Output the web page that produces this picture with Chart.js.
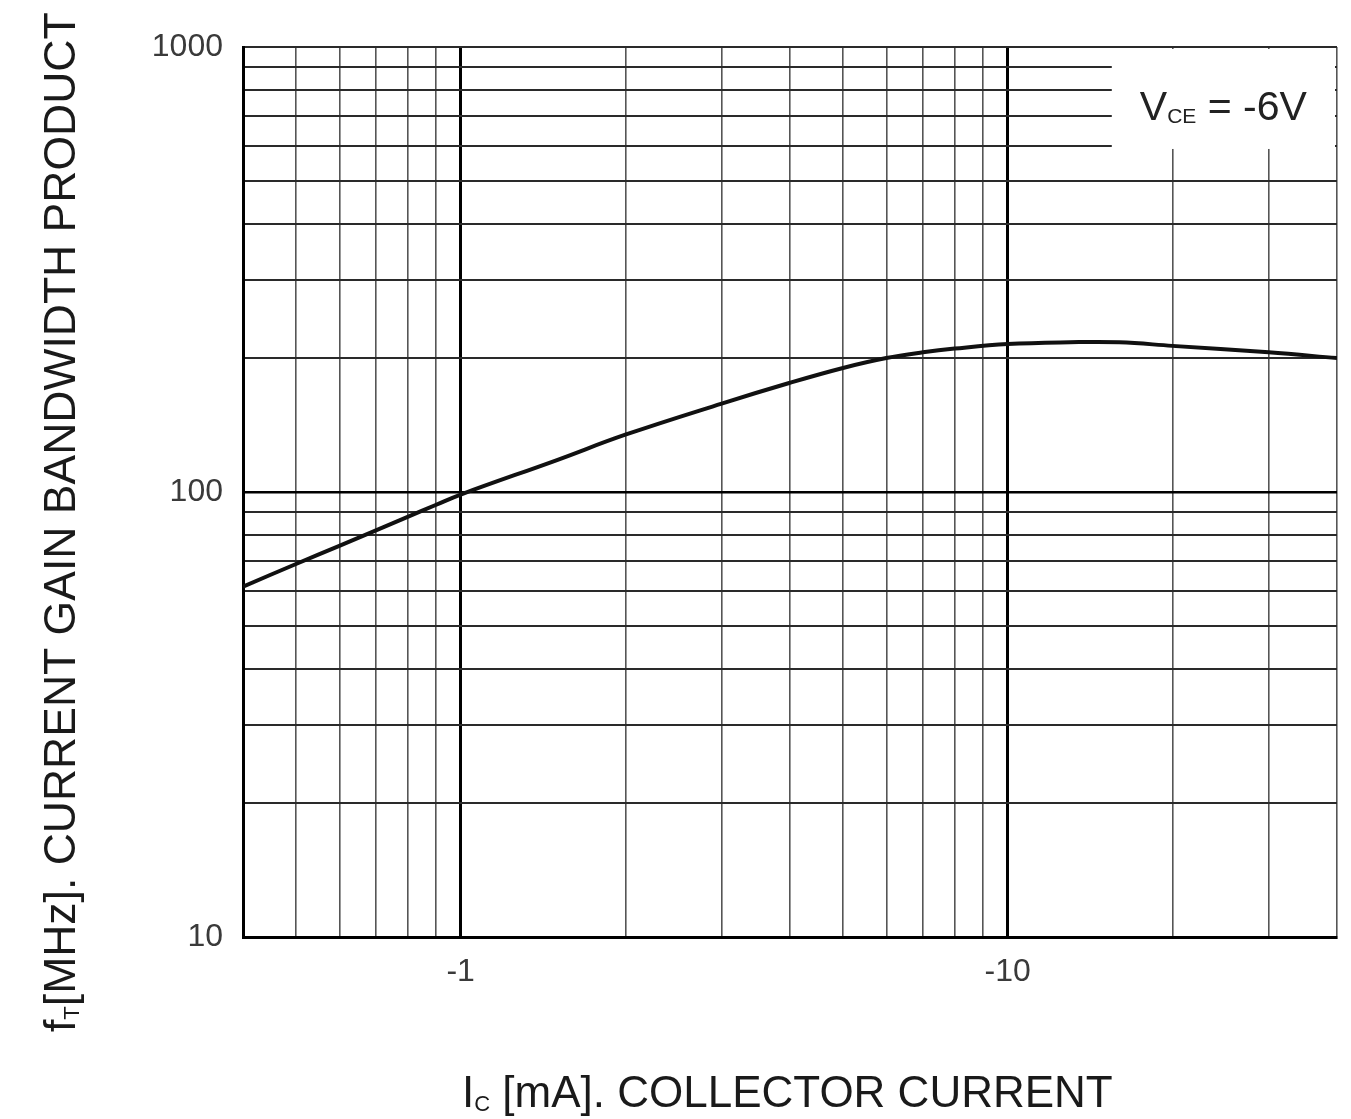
<!DOCTYPE html>
<html>
<head>
<meta charset="utf-8">
<script src="https://cdn.jsdelivr.net/npm/chart.js@4.4.1/dist/chart.umd.min.js"></script>
<style>
  html, body { margin: 0; padding: 0; background: #fff; }
  #wrap { width: 1351px; height: 1119px; position: relative; }
</style>
</head>
<body>
<div id="wrap"><canvas id="c" width="1351" height="1119"></canvas></div>
<script>
// ---- data ----
const collectorCurrent = [0.4, 0.5, 0.6, 0.7, 0.8, 0.9, 1, 1.5, 2, 3, 4, 5, 6, 7, 8, 10, 13, 16, 20, 30, 40];
const gainBandwidth    = [61.3, 68.9, 75.7, 82, 87.9, 93.5, 98.7, 118, 134.5, 158, 176, 190, 200, 206, 210, 215, 217, 217, 213, 206, 200];

const xGridValues = [0.4, 0.5, 0.6, 0.7, 0.8, 0.9, 1, 2, 3, 4, 5, 6, 7, 8, 9, 10, 20, 30, 40];
const xTickValues = [1, 10];
const xTickLabels = ['-1', '-10'];
const yGridValues = [10, 20, 30, 40, 50, 60, 70, 80, 90, 100, 200, 300, 400, 500, 600, 700, 800, 900, 1000];
const yTickValues = [10, 100, 1000];
const yTickLabels = ['10', '100', '1000'];
const majorValues = [1, 10, 100];

const conditionLabel = { main: 'V', sub: 'CE', rest: ' = -6V' };
const yTitle = { main: 'f', sub: 'T', rest: '[MHz]. CURRENT GAIN BANDWIDTH PRODUCT' };
const xTitle = { main: 'I', sub: 'C', rest: ' [mA]. COLLECTOR CURRENT' };
const legendBoxFromX = 15.5;   // value on x axis where annotation box begins
const legendBoxToY = 590;      // value on y axis where annotation box ends

const FONT = '"Liberation Sans", Arial, sans-serif';

function drawSubText(ctx, parts, x, y, size, subSize) {
  ctx.font = size + 'px ' + FONT;
  ctx.fillText(parts.main, x, y);
  let w = ctx.measureText(parts.main).width;
  ctx.font = subSize + 'px ' + FONT;
  ctx.fillText(parts.sub, x + w, y + size * 0.08);
  w += ctx.measureText(parts.sub).width;
  ctx.font = size + 'px ' + FONT;
  ctx.fillText(parts.rest, x + w, y);
}

const decorPlugin = {
  id: 'decor',
  beforeDatasetsDraw(chart) {
    const { ctx, chartArea, scales } = chart;
    const x0 = scales.x.getPixelForValue(legendBoxFromX);
    const y1 = scales.y.getPixelForValue(legendBoxToY);
    ctx.save();
    ctx.fillStyle = '#fff';
    ctx.fillRect(x0, chartArea.top + 2, chartArea.right - 2 - x0, y1 - chartArea.top - 2);
    ctx.fillStyle = '#222';
    ctx.textBaseline = 'alphabetic';
    drawSubText(ctx, conditionLabel, x0 + 28, chartArea.top + 73, 41, 21);
    ctx.restore();
  },
  afterDraw(chart) {
    const { ctx, chartArea, scales } = chart;
    ctx.save();
    // tick labels
    ctx.fillStyle = '#3a3a3a';
    ctx.font = '32px ' + FONT;
    ctx.textAlign = 'right';
    ctx.textBaseline = 'middle';
    yTickValues.forEach((v, i) => {
      ctx.fillText(yTickLabels[i], chartArea.left - 20, scales.y.getPixelForValue(v));
    });
    ctx.textAlign = 'center';
    xTickValues.forEach((v, i) => {
      ctx.fillText(xTickLabels[i], scales.x.getPixelForValue(v), chartArea.bottom + 35);
    });
    // axis titles
    ctx.textAlign = 'left';
    ctx.fillStyle = '#1a1a1a';
    ctx.textBaseline = 'alphabetic';
    drawSubText(ctx, xTitle, 462, 1107, 44, 22);
    ctx.translate(75, 1032);
    ctx.rotate(-Math.PI / 2);
    drawSubText(ctx, yTitle, 0, 0, 44.5, 22);
    ctx.restore();
  }
};

const isMajor = v => majorValues.some(m => Math.abs(m - v) < 1e-9);

new Chart(document.getElementById('c'), {
  type: 'line',
  data: {
    datasets: [{
      data: collectorCurrent.map((x, i) => ({ x: x, y: gainBandwidth[i] })),
      borderColor: '#111',
      borderWidth: 4,
      pointRadius: 0,
      fill: false,
      tension: 0.4
    }]
  },
  options: {
    responsive: false,
    animation: false,
    events: [],
    layout: { padding: { left: 243, right: 14, top: 47, bottom: 182 } },
    plugins: { legend: { display: false }, tooltip: { enabled: false } },
    scales: {
      x: {
        type: 'logarithmic',
        min: 0.4, max: 40,
        afterBuildTicks(scale) { scale.ticks = xGridValues.map(v => ({ value: v })); },
        afterFit(scale) { scale.height = 0; },
        grid: {
          drawTicks: false,
          color: ctx => isMajor(ctx.tick.value) ? '#000' : '#555',
          lineWidth: ctx => isMajor(ctx.tick.value) ? 3 : 1.6
        },
        border: { color: '#000', width: 3 },
        ticks: { display: false }
      },
      y: {
        type: 'logarithmic',
        min: 10, max: 1000,
        afterBuildTicks(scale) { scale.ticks = yGridValues.map(v => ({ value: v })); },
        afterFit(scale) { scale.width = 0; },
        grid: {
          drawTicks: false,
          color: ctx => isMajor(ctx.tick.value) ? '#000' : '#2a2a2a',
          lineWidth: ctx => isMajor(ctx.tick.value) ? 2.5 : 2
        },
        border: { color: '#000', width: 3 },
        ticks: { display: false }
      }
    }
  },
  plugins: [decorPlugin]
});
</script>
</body>
</html>
